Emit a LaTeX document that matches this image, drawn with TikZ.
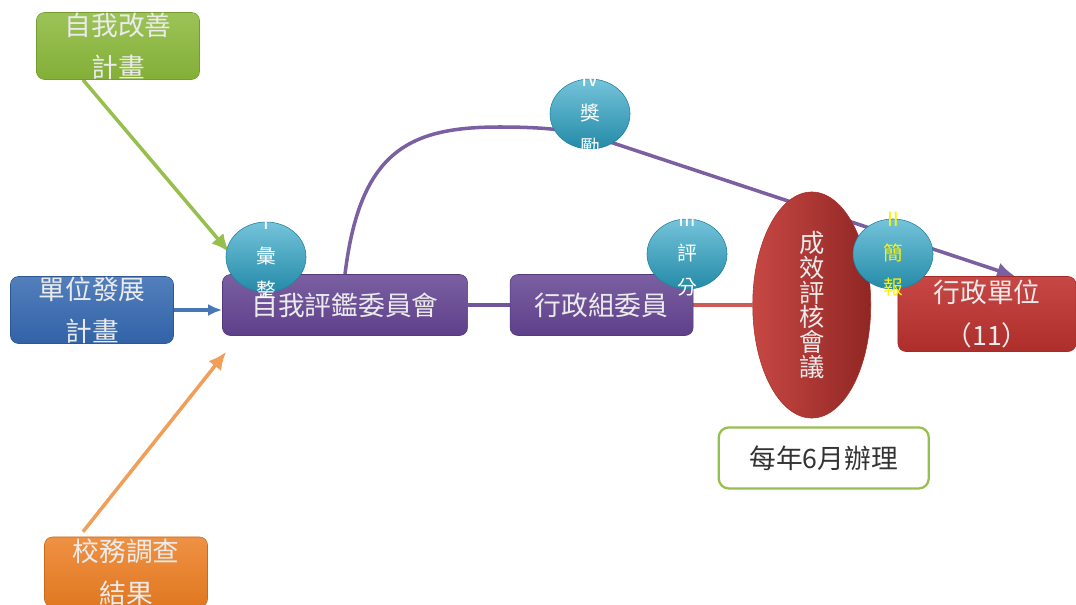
\documentclass[tikz,border=0pt]{standalone}
\usepackage{fontspec}
\usetikzlibrary{shapes.geometric, arrows.meta, positioning, calc}
\newfontfamily\cjk{Noto Sans CJK TC}
\definecolor{plan_green}{HTML}{8AB83A}
\definecolor{dev_blue}{HTML}{3468B0}
\definecolor{survey_orange}{HTML}{EC7E22}
\definecolor{eval_purple}{HTML}{634391}
\definecolor{meet_red}{HTML}{C0332F}
\definecolor{ball_teal}{HTML}{2AA3C6}
\colorlet{plangreen}{plan_green}
\colorlet{devblue}{dev_blue}
\colorlet{surveyorange}{survey_orange}
\colorlet{evalpurple}{eval_purple}
\colorlet{meetred}{meet_red}
\colorlet{ballteal}{ball_teal}
\tikzset{
  unitbox/.style={rectangle,rounded corners=.2cm,inner sep=0pt,text=white!92!black,align=center,font=\cjk\fontsize{19}{30}\selectfont},
  greenbox/.style={unitbox,top color=plangreen!85!white,bottom color=plangreen!95!black,draw=plangreen!85!black,minimum width=4.075cm,minimum height=1.675cm},
  bluebox/.style={unitbox,top color=devblue!85!white,bottom color=devblue!95!black,draw=devblue!85!black,minimum width=4.075cm,minimum height=1.675cm},
  orangebox/.style={unitbox,top color=surveyorange!85!white,bottom color=surveyorange!95!black,draw=surveyorange!85!black,minimum width=4.075cm,minimum height=1.75cm},
  purplebox/.style={unitbox,top color=evalpurple!85!white,bottom color=evalpurple!95!black,draw=evalpurple!85!black,minimum height=1.525cm},
  redbox/.style={unitbox,top color=meetred!90!white,bottom color=meetred!90!black,draw=meetred!85!black,minimum width=4.45cm,minimum height=1.875cm},
  meetoval/.style={ellipse,inner sep=0pt,left color=meetred!90!white,right color=meetred!75!black,draw=meetred!90!black,minimum width=2.95cm,minimum height=5.65cm,text=white!92!black,align=center,font=\cjk\fontsize{18}{17.5}\selectfont},
  notebox/.style={rectangle,rounded corners=.25cm,fill=white,draw=plangreen!90!white,line width=1.6pt,minimum width=5.25cm,minimum height=1.525cm,text=black!80,font=\cjk\fontsize{19}{24}\selectfont},
  stepball/.style={ellipse,inner sep=0pt,top color=ballteal!65!white,bottom color=ballteal!85!black,draw=ballteal!80!black,minimum width=2cm,minimum height=1.75cm},
  steptext/.style={text=white,align=center,font=\cjk\fontsize{14}{24}\selectfont},
  flow/.style={line width=2.5pt,-{Latex[length=0.45cm,width=0.4cm]}},
  link/.style={line width=2.5pt},
}
\pgfdeclarelayer{back}
\pgfsetlayers{back,main}

\begin{document}
\begin{tikzpicture}[x=0.025cm,y=-0.025cm]
	\useasboundingbox (0,0) rectangle (1076,604);
	\node[greenbox] (improve) at (118,46) {自我改善\\計畫};
	\node[bluebox] (unitdev) at (92,310) {單位發展\\計畫};
	\node[orangebox] (survey) at (126,572) {校務調查\\結果};
	\node[purplebox,minimum width=6.125cm] (selfeval) at (345,305) {自我評鑑委員會};
	\node[purplebox,minimum width=4.575cm,right=1.05cm of selfeval] (admincom) {行政組委員};
	\node[meetoval,right=1.475cm of admincom] (meeting) {成\\效\\評\\核\\會\\議};
	\node[redbox] (admin) at (987,314) {行政單位\\（11）};
	\node[notebox,below=0.2cm of meeting,xshift=0.3cm] (yearly) {每年6月辦理};
	\node[stepball,label={[steptext]center:Ⅰ\\彙\\整}] (gather) at (266,257) {};
	\node[stepball,label={[steptext]center:Ⅳ\\獎\\勵}] (reward) at (590,114) {};
	\node[stepball,label={[steptext]center:Ⅲ\\評\\分}] (score) at (687,254) {};
	\node[stepball,label={[steptext,text=yellow]center:Ⅱ\\簡\\報}] (report) at (893,254) {};
	\begin{pgfonlayer}{back}
	\draw[flow,plangreen!90!white] ([xshift=-0.875cm]improve.south) -- ($(selfeval.north west)+(7,-22)$);
	\draw[flow,devblue!90!white,-{Latex[length=0.35cm,width=0.3cm]}] (unitdev.east) -- (unitdev.east -| selfeval.west);
	\draw[flow,surveyorange!75!white] ($(survey.north)+(-43,-5)$) -- ($(selfeval.south west)+(4,16)$);
	\draw[link,evalpurple!90!white] (selfeval.east) -- (admincom.west);
	\draw[link,meetred!80!white] (admincom.east) -- (meeting.west);
	\draw[flow,evalpurple!85!white] (selfeval.north) .. controls (360,150) and (410,127) .. (500,127)
	  .. controls (560,127) and (585,133) .. ($(reward.center)+(20,28)$) -- ([xshift=0.7cm]admin.north);
	\end{pgfonlayer}
\end{tikzpicture}
\end{document}
